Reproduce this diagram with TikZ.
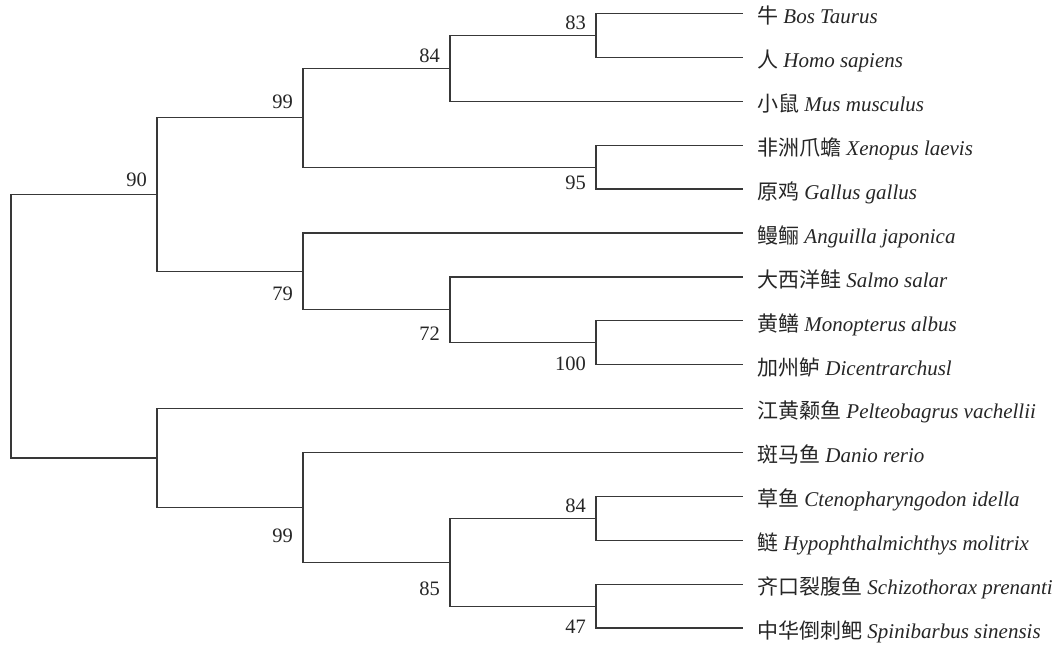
\documentclass[tikz,border=0pt]{standalone}
\usepackage{fontspec}
\setmainfont{Liberation Serif}
\newfontfamily\cjk{Noto Sans CJK SC}
\usetikzlibrary{calc}
\begin{document}
\begin{tikzpicture}[x=1pt,y=-1pt,
  branch/.style={draw=black!78, line width=1.3pt},
  bs/.style={inner sep=0pt, anchor=base east, font=\fontsize{20.5}{22}\selectfont, text=black!85},
  leaf/.style={inner sep=0pt, anchor=base west, font=\fontsize{21}{23}\selectfont, text=black!85}]
\useasboundingbox (0,0) rectangle (1063,645);
% internal nodes
\coordinate (root) at (11,326.3);
\coordinate (A)  at (157,194.6);
\coordinate (F)  at (157,458);
\coordinate (A1) at (303,117.8);
\coordinate (A2) at (303,271.4);
\coordinate (B1) at (450,68.4);
\coordinate (B2) at (596,167.15);
\coordinate (C)  at (596,35.45);
\coordinate (D)  at (450,309.8);
\coordinate (E)  at (596,342.75);
\coordinate (G)  at (303,507.4);
\coordinate (H)  at (450,562.25);
\coordinate (I)  at (596,518.35);
\coordinate (J)  at (596,606.15);
% leaves
\coordinate (l1)  at (743,13.5);
\coordinate (l2)  at (743,57.4);
\coordinate (l3)  at (743,101.3);
\coordinate (l4)  at (743,145.2);
\coordinate (l5)  at (743,189.1);
\coordinate (l6)  at (743,233);
\coordinate (l7)  at (743,276.9);
\coordinate (l8)  at (743,320.8);
\coordinate (l9)  at (743,364.7);
\coordinate (l10) at (743,408.6);
\coordinate (l11) at (743,452.5);
\coordinate (l12) at (743,496.4);
\coordinate (l13) at (743,540.3);
\coordinate (l14) at (743,584.2);
\coordinate (l15) at (743,628.1);
% branches
\draw[branch] (root) |- (A);
\draw[branch] (root) |- (F);
\draw[branch] (A) |- (A1);
\draw[branch] (A) |- (A2);
\draw[branch] (A1) |- (B1);
\draw[branch] (A1) |- (B2);
\draw[branch] (B1) |- (C);
\draw[branch] (B1) |- (l3);
\draw[branch] (C) |- (l1);
\draw[branch] (C) |- (l2);
\draw[branch] (B2) |- (l4);
\draw[branch] (B2) |- (l5);
\draw[branch] (A2) |- (l6);
\draw[branch] (A2) |- (D);
\draw[branch] (D) |- (l7);
\draw[branch] (D) |- (E);
\draw[branch] (E) |- (l8);
\draw[branch] (E) |- (l9);
\draw[branch] (F) |- (l10);
\draw[branch] (F) |- (G);
\draw[branch] (G) |- (l11);
\draw[branch] (G) |- (H);
\draw[branch] (H) |- (I);
\draw[branch] (H) |- (J);
\draw[branch] (I) |- (l12);
\draw[branch] (I) |- (l13);
\draw[branch] (J) |- (l14);
\draw[branch] (J) |- (l15);
% leaf labels
\node[leaf] (t1)  at ($(l1)+(14,10.3)$)  {{\cjk 牛} \textit{Bos Taurus}};
\node[leaf] (t2)  at ($(l2)+(14,10.3)$)  {{\cjk 人} \textit{Homo sapiens}};
\node[leaf] (t3)  at ($(l3)+(14,10.3)$)  {{\cjk 小鼠} \textit{Mus musculus}};
\node[leaf] (t4)  at ($(l4)+(14,10.3)$)  {{\cjk 非洲爪蟾} \textit{Xenopus laevis}};
\node[leaf] (t5)  at ($(l5)+(14,10.3)$)  {{\cjk 原鸡} \textit{Gallus gallus}};
\node[leaf] (t6)  at ($(l6)+(14,10.3)$)  {{\cjk 鳗鲡} \textit{Anguilla japonica}};
\node[leaf] (t7)  at ($(l7)+(14,10.3)$)  {{\cjk 大西洋鲑} \textit{Salmo salar}};
\node[leaf] (t8)  at ($(l8)+(14,10.3)$)  {{\cjk 黄鳝} \textit{Monopterus albus}};
\node[leaf] (t9)  at ($(l9)+(14,10.3)$)  {{\cjk 加州鲈} \textit{Dicentrarchusl}};
\node[leaf] (t10) at ($(l10)+(14,10.3)$) {{\cjk 江黄颡鱼} \textit{Pelteobagrus vachellii}};
\node[leaf] (t11) at ($(l11)+(14,10.3)$) {{\cjk 斑马鱼} \textit{Danio rerio}};
\node[leaf] (t12) at ($(l12)+(14,10.3)$) {{\cjk 草鱼} \textit{Ctenopharyngodon idella}};
\node[leaf] (t13) at ($(l13)+(14,10.3)$) {{\cjk 鲢} \textit{Hypophthalmichthys molitrix}};
\node[leaf] (t14) at ($(l14)+(14,10.3)$) {{\cjk 齐口裂腹鱼} \textit{Schizothorax prenanti}};
\node[leaf] (t15) at ($(l15)+(14,10.3)$) {{\cjk 中华倒刺鲃} \textit{Spinibarbus sinensis}};
% bootstrap values
\node[bs] (bA)  at ($(A)+(-10,-8.5)$)  {90};
\node[bs] (bA1) at ($(A1)+(-10,-9.5)$) {99};
\node[bs] (bA2) at ($(A2)+(-10,29.3)$) {79};
\node[bs] (bB1) at ($(B1)+(-10,-6.4)$) {84};
\node[bs] (bC)  at ($(C)+(-10,-6.2)$)  {83};
\node[bs] (bB2) at ($(B2)+(-10,21.9)$) {95};
\node[bs] (bD)  at ($(D)+(-10,30.2)$)  {72};
\node[bs] (bE)  at ($(E)+(-10,27.3)$)  {100};
\node[bs] (bG)  at ($(G)+(-10,34.9)$)  {99};
\node[bs] (bH)  at ($(H)+(-10,32.8)$)  {85};
\node[bs] (bI)  at ($(I)+(-10,-5.7)$)  {84};
\node[bs] (bJ)  at ($(J)+(-10,27.2)$)  {47};
\end{tikzpicture}
\end{document}
